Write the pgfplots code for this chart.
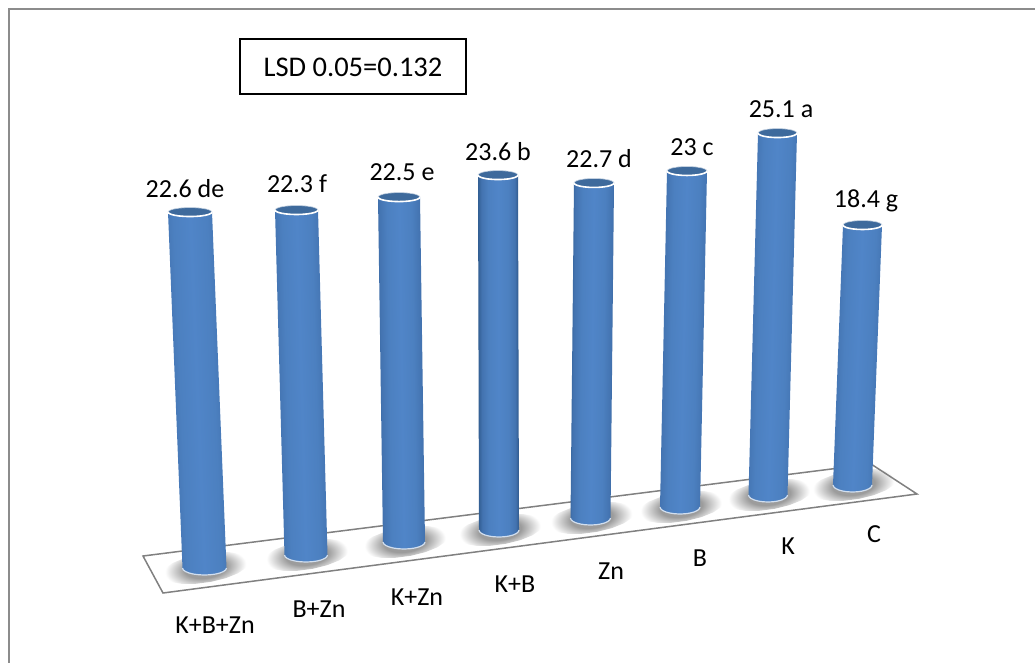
\documentclass[border=0pt]{standalone}
\usepackage{pgfplots}
\pgfplotsset{compat=1.18}
\usepackage{fontspec}
\setmainfont{Carlito}

\definecolor{cylEdgeL}{HTML}{2F5B8E}
\definecolor{cylEdgeR}{HTML}{2C5484}
\definecolor{cylA}{HTML}{4373B0}
\definecolor{cylB}{HTML}{4C80C0}
\definecolor{cylC}{HTML}{5085C8}
\definecolor{capfill}{HTML}{3E6A9C}
\definecolor{floorline}{HTML}{808080}
\definecolor{framecol}{HTML}{8C8C8C}
\definecolor{shadowcol}{HTML}{9C9C9C}
% Cylinder body: dark rims, bright centre
\pgfdeclarehorizontalshading{cylbody}{100bp}{
  color(0bp)=(cylEdgeL); color(25bp)=(cylEdgeL); color(30bp)=(cylA);
  color(38bp)=(cylB); color(50bp)=(cylC); color(62bp)=(cylB);
  color(70bp)=(cylA); color(75bp)=(cylEdgeR); color(100bp)=(cylEdgeR)}
% Floor shadow: flat core, soft fringe
\pgfdeclareradialshading{floorsoft}{\pgfpoint{0bp}{0bp}}{
  color(0bp)=(shadowcol); color(13bp)=(shadowcol);
  color(25bp)=(white); color(50bp)=(white)}

% Appends points of an elliptical arc to \arcpts
\newcommand\addarc[7]{% cx cy rx ry start step end
  \foreach \a in {#5,\the\numexpr#5+#6\relax,...,#7}{%
    \pgfmathsetmacro\px{#1+(#3)*cos(\a)}%
    \pgfmathsetmacro\py{#2+(#4)*sin(\a)}%
    \xdef\arcpts{\arcpts (\px,\py)}%
  }}

% Soft shadow on the floor below a cylinder, tilted along the floor: base x, base y
\newcommand\floorshadow[2]{%
  \gdef\arcpts{}%
  \foreach \a in {0,20,...,340}{%
    \pgfmathsetmacro\px{#1+1+44*cos(\a)-15*0.13*sin(\a)}%
    \pgfmathsetmacro\py{#2+15*sin(\a)-44*0.13*cos(\a)}%
    \xdef\arcpts{\arcpts (\px,\py)}%
  }%
  \edef\tmp{\noexpand\addplot[shadowstyle] coordinates {\arcpts} --cycle;}\tmp}

% One cylinder: top x, base x, base y, pixels per unit, value, half width
\newcommand\cyl[6]{%
  \pgfmathsetmacro\ty{#3-(#4)*(#5)}%
  \pgfmathsetmacro\lean{atan((#2-#1)/(#3-\ty))}%
  \pgfmathsetmacro\tl{#1-#6}\pgfmathsetmacro\tr{#1+#6}%
  \xdef\arcpts{(\tl,\ty) (\tr,\ty)}%
  \addarc{#2}{#3}{#6}{7}{0}{15}{180}%
  \edef\tmp{\noexpand\addplot[bodystyle,shading angle=\lean] coordinates {\arcpts} --cycle;}\tmp
  \gdef\arcpts{}\addarc{#2}{#3}{#6}{7}{0}{15}{180}%
  \edef\tmp{\noexpand\addplot[rimstyle] coordinates {\arcpts};}\tmp
  \gdef\arcpts{}\addarc{#1}{\ty}{#6}{4.5}{0}{20}{340}%
  \edef\tmp{\noexpand\addplot[capstyle] coordinates {\arcpts} --cycle;}\tmp
  \gdef\arcpts{}\addarc{#1}{\ty}{#6}{4.5}{0}{15}{180}%
  \edef\tmp{\noexpand\addplot[caprim] coordinates {\arcpts};}\tmp
}

\begin{document}
\begin{tikzpicture}[font=\fontsize{26}{30}\selectfont]
\begin{axis}[
  name=chart,
  scale only axis, width=1035pt, height=663pt,
  xmin=0, xmax=1035, ymin=0, ymax=663, y dir=reverse,
  hide axis, clip=false,
  shadowstyle/.style={draw=none, mark=none, shading=floorsoft, shading angle=7.4},
  bodystyle/.style={draw=none, mark=none, shading=cylbody},
  rimstyle/.style={draw=white!75!cylB, line width=1.2pt, mark=none},
  capstyle/.style={draw=white!70!capfill, line width=.6pt, fill=capfill, mark=none},
  caprim/.style={draw=white, line width=1.6pt, mark=none},
  floorline/.style={draw=floorline, line width=1.5pt, mark=none},
]
% Chart frame
\addplot[draw=framecol, line width=2pt, mark=none] coordinates {(9,663) (9,9) (1035,9)};

% Floor shadows
\floorshadow{204.5}{568}
\floorshadow{306}{555}
\floorshadow{404}{542}
\floorshadow{499}{530}
\floorshadow{590.5}{518}
\floorshadow{680}{507}
\floorshadow{768}{495}
\floorshadow{852.5}{485}

% Floor
\addplot[floorline] coordinates {(143,556) (163,593) (917,494) (871,464)} --cycle;

% Cylinders: value sets the height
\cyl{190}{204.5}{568}{15.75}{22.6}{22}
\cyl{296.5}{306}{555}{15.47}{22.3}{21.5}
\cyl{399}{404}{542}{15.33}{22.5}{21}
\cyl{498}{499}{530}{15.04}{23.6}{20}
\cyl{594}{590.5}{518}{14.76}{22.7}{20}
\cyl{687}{680}{507}{14.61}{23}{20}
\cyl{777.5}{768}{495}{14.42}{25.1}{19.5}
\cyl{862.5}{852.5}{485}{14.13}{18.4}{19.5}

% Value labels
\node at (axis cs:185,189) {22.6 de};
\node at (axis cs:297,184) {22.3 f};
\node at (axis cs:402,172) {22.5 e};
\node at (axis cs:498,152) {23.6 b};
\node at (axis cs:599,159) {22.7 d};
\node at (axis cs:692,147) {23 c};
\node at (axis cs:781,109) {25.1 a};
\node at (axis cs:866,201) {18.4 g};

% Category labels
\node at (axis cs:215,625) {K+B+Zn};
\node at (axis cs:319,609) {B+Zn};
\node at (axis cs:417,597) {K+Zn};
\node at (axis cs:515,584) {K+B};
\node at (axis cs:611,571) {Zn};
\node at (axis cs:700,558) {B};
\node at (axis cs:788,546) {K};
\node at (axis cs:874,534) {C};

% Significance box
\addplot[draw=black, line width=1.5pt, mark=none] coordinates {(240,39) (466,39) (466,94) (240,94)} --cycle;
\node[font=\fontsize{28.5}{32}\selectfont] at (axis cs:353,67) {LSD 0.05=0.132};
\end{axis}
\pgfresetboundingbox
\path[use as bounding box] (chart.south west) rectangle (chart.north east);
\end{tikzpicture}
\end{document}
